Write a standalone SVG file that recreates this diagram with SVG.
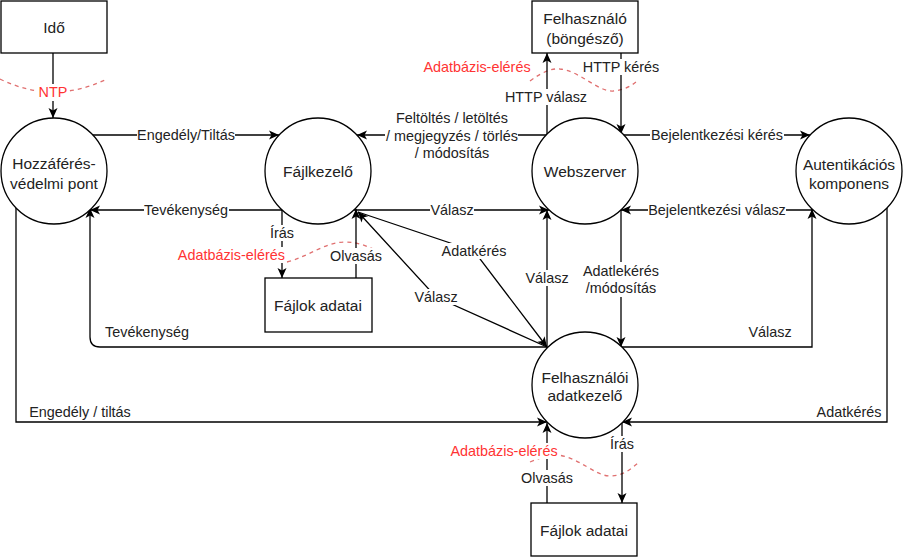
<svg xmlns="http://www.w3.org/2000/svg" width="904" height="558" viewBox="0 0 904 558">
<style>
.node{fill:#fff;stroke:#000;stroke-width:1.3}
.nt{font-family:"Liberation Sans",Arial,sans-serif;font-size:15.5px;fill:#222;text-anchor:middle;dominant-baseline:central}
.e{fill:none;stroke:#000;stroke-width:1.3}
.zone{fill:none;stroke:#E07070;stroke-width:1.3;stroke-dasharray:4 4}
.lt{font-family:"Liberation Sans",Arial,sans-serif;font-size:14.4px;fill:#222;text-anchor:middle;dominant-baseline:central}
.red{fill:#FF3333}
.bg{fill:#fff}
</style>
<defs>
<marker id="arr" markerUnits="userSpaceOnUse" markerWidth="12" markerHeight="12" viewBox="0 0 12 12" refX="11" refY="6" orient="auto">
<path d="M1,1.5 L11,6 L1,10.5 L3.5,6 Z" fill="#000"/>
</marker>
</defs>
<rect width="904" height="558" fill="#fff"/>

<g id="zones">
<path class="zone" d="M0,79 Q53,105 107,79"/>
<path class="zone" d="M530,81 C542,72 552,68 560,69 C580,71 598,92 613,91 C624,90 632,86 638,80"/>
<path class="zone" d="M287,262 C310,256 325,242 345,242 C360,242 372,248 382,254"/>
<path class="zone" d="M530,462 C540,458 548,455 558,455 C580,458 595,476 610,476 C622,476 630,470 638,463"/>
</g>

<g id="connectors">
<path class="e" marker-end="url(#arr)" d="M53,53 L53,118"/>
<path class="e" marker-end="url(#arr)" d="M93,135 L279,135"/>
<path class="e" marker-end="url(#arr)" d="M282,210 L90,210"/>
<path class="e" marker-end="url(#arr)" d="M354,210 L549,210"/>
<path class="e" marker-end="url(#arr)" d="M547,135 L357,135"/>
<path class="e" marker-end="url(#arr)" d="M547,134 L547,53"/>
<path class="e" marker-end="url(#arr)" d="M621,53 L621,134"/>
<path class="e" marker-end="url(#arr)" d="M621,135 L810,135"/>
<path class="e" marker-end="url(#arr)" d="M813,210 L621,210"/>
<path class="e" marker-end="url(#arr)" d="M282,210 L282,278"/>
<path class="e" marker-end="url(#arr)" d="M356,278 L356,209"/>
<path class="e" marker-end="url(#arr)" d="M358,212 L474,251 L547,347"/>
<path class="e" marker-end="url(#arr)" d="M547,347 L436,297 L358,212"/>
<path class="e" marker-end="url(#arr)" d="M621,210 L621,347"/>
<path class="e" marker-end="url(#arr)" d="M547,347 L547,210"/>
<path class="e" marker-end="url(#arr)" d="M547,347 L100,347 Q90,347 90,337 L90,208"/>
<path class="e" marker-end="url(#arr)" d="M622,347 L812,347 L812,209"/>
<path class="e" marker-end="url(#arr)" d="M16,208 L16,422 L547,422"/>
<path class="e" marker-end="url(#arr)" d="M887,208 L887,422 L622,422"/>
<path class="e" marker-end="url(#arr)" d="M622,423 L622,503"/>
<path class="e" marker-end="url(#arr)" d="M547,503 L547,423"/>

<rect class="bg" x="38" y="84" width="30" height="17"/>
<text class="lt red" x="53" y="92">NTP</text>
<rect class="bg" x="137" y="127" width="98" height="16"/>
<text class="lt" x="186" y="135">Engedély/Tiltás</text>
<rect class="bg" x="144" y="202" width="85" height="16"/>
<text class="lt" x="186" y="210">Tevékenység</text>
<rect class="bg" x="430" y="202" width="44" height="16"/>
<text class="lt" x="452" y="210">Válasz</text>
<rect class="bg" x="385" y="109" width="133" height="53"/>
<text class="lt" x="452" y="118">Feltöltés / letöltés</text>
<text class="lt" x="452" y="136">/ megjegyzés / törlés</text>
<text class="lt" x="452" y="153">/ módosítás</text>
<rect class="bg" x="505" y="89" width="82" height="16"/>
<text class="lt" x="546" y="97">HTTP válasz</text>
<rect class="bg" x="583" y="59" width="77" height="16"/>
<text class="lt" x="621" y="67">HTTP kérés</text>
<text class="lt red" x="477" y="67">Adatbázis-elérés</text>
<rect class="bg" x="650" y="127" width="134" height="16"/>
<text class="lt" x="717" y="135">Bejelentkezési kérés</text>
<rect class="bg" x="648" y="202" width="138" height="16"/>
<text class="lt" x="717" y="210">Bejelentkezési válasz</text>
<rect class="bg" x="270" y="225" width="24" height="16"/>
<text class="lt" x="282" y="233">Írás</text>
<rect class="bg" x="177" y="247" width="109" height="16"/>
<text class="lt red" x="285" y="255" style="text-anchor:end">Adatbázis-elérés</text>
<rect class="bg" x="331" y="248" width="51" height="16"/>
<text class="lt" x="356" y="256">Olvasás</text>
<rect class="bg" x="442" y="243" width="64" height="16"/>
<text class="lt" x="474" y="251">Adatkérés</text>
<rect class="bg" x="415" y="289" width="43" height="16"/>
<text class="lt" x="436" y="297">Válasz</text>
<rect class="bg" x="525" y="270" width="44" height="16"/>
<text class="lt" x="547" y="278">Válasz</text>
<rect class="bg" x="583" y="262" width="77" height="35"/>
<text class="lt" x="621" y="271">Adatlekérés</text>
<text class="lt" x="621" y="288">/módosítás</text>
<text class="lt" x="147" y="332">Tevékenység</text>
<text class="lt" x="770" y="332">Válasz</text>
<text class="lt" x="80" y="412">Engedély / tiltás</text>
<text class="lt" x="849" y="412">Adatkérés</text>
<rect class="bg" x="610" y="436" width="24" height="16"/>
<text class="lt" x="622" y="444">Írás</text>
<rect class="bg" x="450" y="443" width="108" height="16"/>
<text class="lt red" x="504" y="451">Adatbázis-elérés</text>
<rect class="bg" x="522" y="470" width="51" height="16"/>
<text class="lt" x="547" y="478">Olvasás</text>
</g>

<g id="ido">
<rect class="node" x="1" y="1" width="106" height="52"/>
<text class="nt" x="54" y="27">Idő</text>
</g>
<g id="felhasznalo">
<rect class="node" x="532" y="1" width="106" height="52"/>
<text class="nt" x="585" y="18">Felhasználó</text>
<text class="nt" x="585" y="38">(böngésző)</text>
</g>
<g id="hozzaferes">
<circle class="node" cx="54" cy="171" r="53"/>
<text class="nt" x="54" y="163">Hozzáférés-</text>
<text class="nt" x="54" y="183">védelmi pont</text>
</g>
<g id="fajlkezelo">
<circle class="node" cx="318" cy="171" r="53"/>
<text class="nt" x="318" y="171">Fájlkezelő</text>
</g>
<g id="webszerver">
<circle class="node" cx="585" cy="171" r="53"/>
<text class="nt" x="585" y="171">Webszerver</text>
</g>
<g id="autentikacio">
<circle class="node" cx="849" cy="171" r="53"/>
<text class="nt" x="849" y="164">Autentikációs</text>
<text class="nt" x="849" y="183">komponens</text>
</g>
<g id="fajlok1">
<rect class="node" x="265" y="278" width="107" height="54"/>
<text class="nt" x="318" y="305">Fájlok adatai</text>
</g>
<g id="adatkezelo">
<circle class="node" cx="585" cy="385" r="53"/>
<text class="nt" x="585" y="377">Felhasználói</text>
<text class="nt" x="585" y="395">adatkezelő</text>
</g>
<g id="fajlok2">
<rect class="node" x="531" y="503" width="106" height="53"/>
<text class="nt" x="584" y="530">Fájlok adatai</text>
</g>
</svg>
